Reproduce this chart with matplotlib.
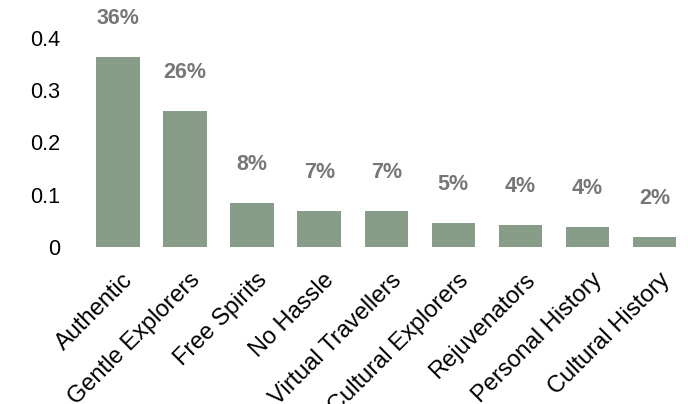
import matplotlib.pyplot as plt
import matplotlib.transforms as mtransforms

plt.rcParams['font.family'] = ['Liberation Sans', 'DejaVu Sans']

segments = ['Authentic', 'Gentle Explorers', 'Free Spirits', 'No Hassle',
            'Virtual Travellers', 'Cultural Explorers', 'Rejuvenators',
            'Personal History', 'Cultural History']
shares = [0.364, 0.26, 0.084, 0.069, 0.069, 0.046, 0.042, 0.038, 0.019]
labels = ['36%', '26%', '8%', '7%', '7%', '5%', '4%', '4%', '2%']

fig = plt.figure(figsize=(6.88, 4.04), dpi=100)
ax = fig.add_axes([0.123, 0.389, 0.877, 0.586])

x = range(len(segments))
bars = ax.bar(x, shares, width=0.65, color='#879d87')

for b, lab in zip(bars, labels):
    ax.annotate(lab, (b.get_x() + b.get_width() / 2, b.get_height()),
                xytext=(0, 20), textcoords='offset points',
                ha='center', va='bottom', fontsize=15.5, fontweight='bold',
                color='#767676')

ax.set_xlim(-0.5, len(segments) - 0.5)
ax.set_ylim(0, 0.4536)
ax.set_yticks([0, 0.1, 0.2, 0.3, 0.4])
ax.set_yticklabels(['0', '0.1', '0.2', '0.3', '0.4'], fontsize=15.5)
ax.set_xticks(list(x))
ax.set_xticklabels(segments, rotation=45, ha='right', rotation_mode='anchor',
                   fontsize=17)
ax.tick_params(axis='y', length=0, pad=17.5)
ax.tick_params(axis='x', length=0, pad=16)
shift = mtransforms.ScaledTranslation(4 / 100, 0, fig.dpi_scale_trans)
for t in ax.get_xticklabels():
    t.set_transform(t.get_transform() + shift)
for s in ax.spines.values():
    s.set_visible(False)

fig.savefig('out.png', dpi=100)
